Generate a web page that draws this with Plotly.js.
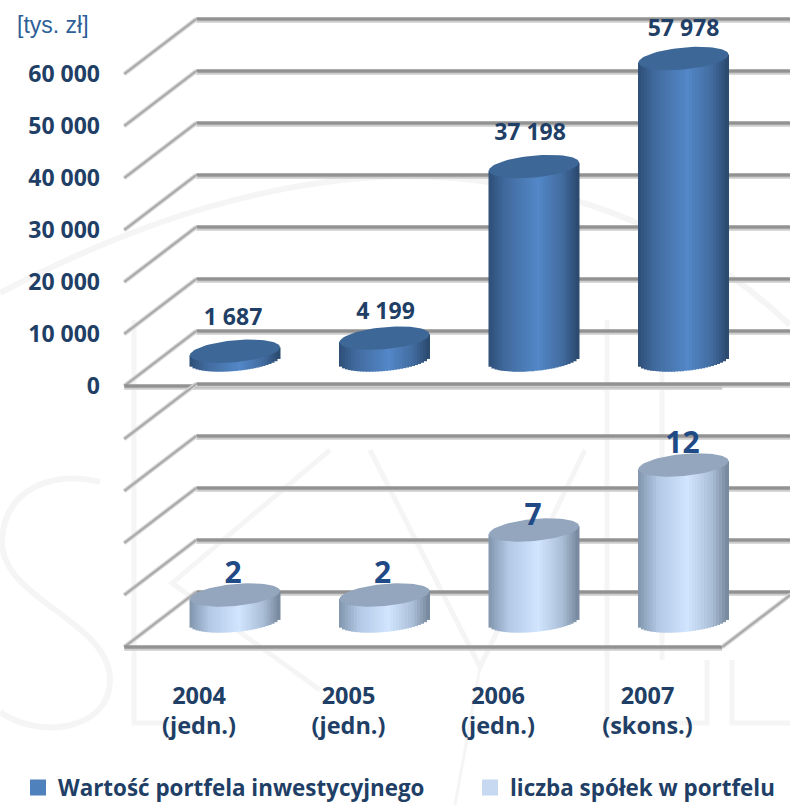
<!DOCTYPE html>
<html><head><meta charset="utf-8">
<script src="https://cdn.plot.ly/plotly-3.0.1.min.js"></script>
<style>html,body{margin:0;padding:0;background:#fff}</style></head>
<body><div id="chart" style="width:790px;height:805px"></div>
<script>
// ---- data ----
const categories = ["2004<br>(jedn.)","2005<br>(jedn.)","2006<br>(jedn.)","2007<br>(skons.)"];
const portfolioName = "Wartość portfela inwestycyjnego";
const companiesName = "liczba spółek w portfelu";
const portfolioValues = [1687,4199,37198,57978];
const portfolioLabels = ["1 687","4 199","37 198","57 978"];
const companiesValues = [2,2,7,12];
const companiesLabels = ["2","2","7","12"];
const portfolioTickVals = [0,10000,20000,30000,40000,50000,60000];
const portfolioTickText = ["0","10 000","20 000","30 000","40 000","50 000","60 000"];
const companiesTickVals = [0,4,8,12,16];

// ---- page geometry ----
const W=790,H=805, pxPerX=149.5, x0Px=199;
const top0Px=386, bot0Px=647;
const pxTop=52/10000, pxBot=13;          // pixels per value unit
const depthX=72, depthY=55;              // skew of the 3-D floor, px
const midX=36/pxPerX;                    // cylinder centre sits halfway into the floor
const halfW=45, capB=11, capS=4;         // cap ellipse, px
const NS=30;
const font="'Open Sans',sans-serif", navy="#1f3f66";
const portfolioLabelLift=[32,25,32,28], companiesLabelLift=[19.5,19.5,12.5,20]; // label offsets above caps, px
const portfolioLabelNudge=[-2,1,-4,0], companiesLabelNudge=[-2,-2,-1,-1];       // sideways, px

function lerpColor(stops,u){
  for(let i=1;i<stops.length;i++){ if(u<=stops[i][0]){
    const a=stops[i-1],b=stops[i],t=(u-a[0])/(b[0]-a[0]);
    const c=[0,1,2].map(k=>Math.round(a[1][k]+(b[1][k]-a[1][k])*t));
    return `rgb(${c})`; } }
  return `rgb(${stops[stops.length-1][1]})`;
}
const darkStops=[[0,[45,78,118]],[.2,[66,108,160]],[.55,[83,135,200]],[.82,[66,108,160]],[1,[42,72,108]]];
const lightStops=[[0,[128,148,172]],[.22,[178,200,228]],[.55,[209,229,255]],[.82,[170,190,214]],[1,[116,134,155]]];

function cylinders(vals,pxPerUnit,floorPx,stops,capColor,yaxis){
  const xs=[],bases=[],hs=[],cols=[]; const sw=2*halfW/NS;
  const off=floorPx/pxPerUnit;
  vals.forEach((v,i)=>{
    for(let k=0;k<NS;k++){
      const d=(k+.5)*sw-halfW,u=d/halfW,r=Math.sqrt(1-u*u);
      xs.push(i+midX+d/pxPerX);
      bases.push(off+(capS*u-capB*r)/pxPerUnit);
      hs.push(v+capB*r/pxPerUnit);
      cols.push(lerpColor(stops,(k+.5)/NS));
    }
  });
  const bars={type:'bar',x:xs,y:hs,base:bases,width:(sw+1)/pxPerX,marker:{color:cols,line:{width:0}},
    yaxis,showlegend:false,hoverinfo:'skip'};
  const caps=vals.map((v,i)=>{
    const X=[],Y=[];
    for(let a=0;a<=72;a++){const t=a/72*2*Math.PI;
      X.push(i+midX+halfW*Math.cos(t)/pxPerX);
      Y.push(off+v+(capB*Math.sin(t)+capS*Math.cos(t))/pxPerUnit);}
    return {type:'scatter',mode:'lines',x:X,y:Y,fill:'toself',fillcolor:capColor,
      line:{width:0,color:capColor},yaxis,showlegend:false,hoverinfo:'skip'};
  });
  return [bars,...caps];
}

function grid(tickVals,pxPerUnit,yref,withRight){
  const s=[];
  const xL=-.5,xR=3.5,dx=depthX/pxPerX,dy=depthY/pxPerUnit;
  const ln=(x0,y0,x1,y1,c,w)=>({type:'line',layer:'below',xref:'x',yref,x0,y0,x1,y1,line:{color:c,width:w}});
  const sh=2.5/pxPerUnit;
  tickVals.forEach(v=>{
    s.push(ln(xL+dx,v+dy-sh,xR+dx,v+dy-sh,'#cdcdcd',2.5));
    s.push(ln(xL+dx,v+dy,xR+dx,v+dy,'#929292',3.5));
    s.push(ln(xL,v,xL+dx,v+dy,'#d6d6d6',4.5));
    s.push(ln(xL,v,xL+dx,v+dy,'#a8a8a8',2));
  });
  s.push(ln(xL,-sh,xR,-sh,'#cdcdcd',2.5));
  s.push(ln(xL,0,xR,0,'#929292',3.5));
  if(withRight){ s.push(ln(xR,0,xR+dx,dy,'#d6d6d6',4.5)); s.push(ln(xR,0,xR+dx,dy,'#a8a8a8',2)); }
  return s;
}

function labels(vals,txt,lift,nudge,pxPerUnit,floorPx,size,color,yaxis){
  return {type:'scatter',mode:'text',x:vals.map((v,i)=>i+midX+nudge[i]/pxPerX),
    y:vals.map((v,i)=>v+(floorPx+lift[i])/pxPerUnit),text:txt,textposition:'middle center',
    textfont:{family:font,size,color,weight:700},yaxis,showlegend:false,hoverinfo:'skip',cliponaxis:false};
}
function legendKey(name,color,legend){
  return {type:'scatter',mode:'markers',x:[null],y:[null],name,legend,marker:{symbol:'square',size:16,color},hoverinfo:'skip'};
}

// faint logo watermark behind the chart (decoration only)
const P=(x,y)=>`${x/W},${1-y/H}`;
const faint=(path,w)=>({type:'path',layer:'below',xref:'paper',yref:'paper',path,line:{color:'#f5f5f5',width:w||5}});
const watermark=[
  faint(`M${P(0,293)} C${P(110,235)} ${P(250,180)} ${P(400,176)} C${P(560,176)} ${P(690,230)} ${P(790,325)}`,6),
  faint(`M${P(100,482)} C${P(50,470)} ${P(5,490)} ${P(2,540)} C${P(0,600)} ${P(110,620)} ${P(110,680)} C${P(110,730)} ${P(40,740)} ${P(0,712)}`,6),
  faint(`M${P(134,320)} L${P(134,723)} L${P(210,723)}`),
  faint(`M${P(330,450)} L${P(172,583)} L${P(320,690)}`),
  faint(`M${P(370,450)} L${P(480,667)} L${P(585,450)}`),
  faint(`M${P(480,667)} L${P(455,805)}`,3),
  faint(`M${P(607,320)} L${P(607,723)} L${P(707,723)} L${P(707,660)}`),
  faint(`M${P(662,330)} L${P(662,660)}`),
  faint(`M${P(732,660)} L${P(732,723)} L${P(790,723)}`)
];

const data=[
  ...cylinders(portfolioValues,pxTop,26,darkStops,'#3d6796','y'),
  ...cylinders(companiesValues,pxBot,26,lightStops,'#94a6bd','y2'),
  labels(portfolioValues,portfolioLabels,portfolioLabelLift,portfolioLabelNudge,pxTop,26,23,navy,'y'),
  labels(companiesValues,companiesLabels,companiesLabelLift,companiesLabelNudge,pxBot,26,30,'#1f4a85','y2'),
  legendKey(portfolioName,'#4f81bd','legend'),
  legendKey(companiesName,'#c6d9f1','legend2')
];

const legendFont={family:font,size:22.4,color:navy,weight:700};
const layout={
  width:W,height:H,margin:{l:0,r:0,t:0,b:0,autoexpand:false},paper_bgcolor:'#fff',plot_bgcolor:'rgba(0,0,0,0)',
  barmode:'overlay',
  xaxis:{anchor:'y2',domain:[0,1],range:[-x0Px/pxPerX,(W-x0Px)/pxPerX],tickmode:'array',
    tickvals:categories.map((c,i)=>i),ticktext:categories,showgrid:false,zeroline:false,showline:false,ticks:'',
    ticklabelstandoff:28,automargin:false,tickfont:{family:font,size:23.5,color:navy,weight:700}},
  yaxis:{domain:[(H-390)/H,1],range:[-4/pxTop,top0Px/pxTop],anchor:'free',position:125/W,
    tickmode:'array',tickvals:portfolioTickVals,ticktext:portfolioTickText,showgrid:false,zeroline:false,showline:false,
    ticks:'',ticklabelstandoff:25,automargin:false,tickfont:{family:font,size:23,color:navy,weight:700}},
  yaxis2:{domain:[(H-651)/H,(H-370)/H],range:[-4/pxBot,(bot0Px-370)/pxBot],anchor:'free',position:125/W,
    tickmode:'array',tickvals:companiesTickVals,showticklabels:false,showgrid:false,zeroline:false,showline:false,ticks:''},
  shapes:[...watermark,...grid(portfolioTickVals,pxTop,'y',false),...grid(companiesTickVals,pxBot,'y2',true)],
  annotations:[{xref:'paper',yref:'paper',x:15/W,y:1-25/H,xanchor:'left',yanchor:'middle',showarrow:false,
    text:'[tys. zł]',font:{family:'Liberation Sans, Arial, sans-serif',size:23,color:'#2f5f97'}}],
  showlegend:true,
  legend:{x:18/W,xanchor:'left',y:1-788/H,yanchor:'middle',bgcolor:'rgba(0,0,0,0)',font:legendFont},
  legend2:{x:470/W,xanchor:'left',y:1-788/H,yanchor:'middle',bgcolor:'rgba(0,0,0,0)',font:legendFont},
  hovermode:false
};
Plotly.newPlot('chart',data,layout,{displayModeBar:false,responsive:false});
</script></body></html>
